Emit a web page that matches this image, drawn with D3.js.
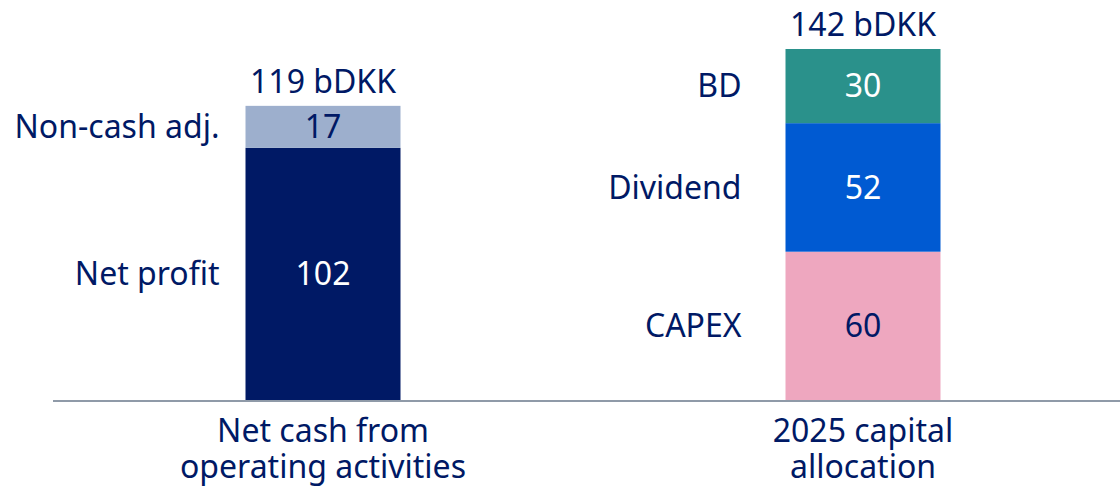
<!DOCTYPE html>
<html>
<head>
<meta charset="utf-8">
<script src="https://cdn.jsdelivr.net/npm/d3@7"></script>
<style>
  html, body { margin: 0; padding: 0; background: #fff; }
  svg { display: block; font-family: "Noto Sans", sans-serif; }
</style>
</head>
<body>
<div id="chart"></div>
<script>
// categories (each label split into lines)
const categories = ['Net cash from operating activities', '2025 capital allocation'];
const categoryLines = [['Net cash from', 'operating activities'], ['2025 capital', 'allocation']];
const totals = ['119 bDKK', '142 bDKK'];

// segments per bar, bottom to top
const segmentNames = [['Net profit', 'Non-cash adj.'], ['CAPEX', 'Dividend', 'BD']];
const segmentValues = [[102, 17], [60, 52, 30]];
const segmentColors = [['#001965', '#9DAFCD'], ['#EEA7BF', '#005AD2', '#2A918B']];
const valueColors = [['#ffffff', '#001965'], ['#001965', '#ffffff', '#ffffff']];

const width = 1120;
const height = 487;
const navy = '#001965';
const fontSize = 32;

const svg = d3.select('#chart')
  .append('svg')
  .attr('width', width)
  .attr('height', height);

const x = d3.scaleBand()
  .domain(categories)
  .range([53, 1133]);

const barWidth = 155;

const y = d3.scaleLinear()
  .domain([0, 142])
  .range([400, 49]);

// build stacked rows
const rows = [];
categories.forEach((c, i) => {
  let base = 0;
  segmentValues[i].forEach((v, j) => {
    rows.push({ cat: c, i, j, y0: base, y1: base + v, v, name: segmentNames[i][j] });
    base += v;
  });
});

const barX = c => x(c) + x.bandwidth() / 2 - barWidth / 2;

svg.selectAll('rect.seg')
  .data(rows)
  .enter()
  .append('rect')
  .attr('class', 'seg')
  .attr('x', d => barX(d.cat))
  .attr('width', barWidth)
  .attr('y', d => y(d.y1))
  .attr('height', d => y(d.y0) - y(d.y1))
  .attr('fill', d => segmentColors[d.i][d.j]);

// values inside bars
svg.selectAll('text.val')
  .data(rows)
  .enter()
  .append('text')
  .attr('x', d => x(d.cat) + x.bandwidth() / 2)
  .attr('y', d => y((d.y0 + d.y1) / 2))
  .attr('dy', '0.35em')
  .attr('text-anchor', 'middle')
  .style('font-size', fontSize + 'px')
  .attr('fill', d => valueColors[d.i][d.j])
  .text(d => d.v);

// segment names to the left
const labelGap = [26, 44];
svg.selectAll('text.name')
  .data(rows)
  .enter()
  .append('text')
  .attr('x', d => barX(d.cat) - labelGap[d.i])
  .attr('y', d => y((d.y0 + d.y1) / 2))
  .attr('dy', '0.35em')
  .attr('text-anchor', 'end')
  .style('font-size', fontSize + 'px')
  .attr('fill', navy)
  .text(d => d.name);

// totals above bars
svg.selectAll('text.total')
  .data(categories)
  .enter()
  .append('text')
  .attr('x', c => x(c) + x.bandwidth() / 2)
  .attr('y', (c, i) => y(d3.sum(segmentValues[i])) - 13)
  .attr('text-anchor', 'middle')
  .style('font-size', fontSize + 'px')
  .attr('fill', navy)
  .text((c, i) => totals[i]);

// baseline
svg.append('line')
  .attr('x1', 53)
  .attr('x2', width)
  .attr('y1', y(0) + 1)
  .attr('y2', y(0) + 1)
  .attr('stroke', '#8F9AA8')
  .attr('stroke-width', 2);

// category labels
const catText = svg.selectAll('text.cat')
  .data(categories)
  .enter()
  .append('text')
  .attr('text-anchor', 'middle')
  .style('font-size', fontSize + 'px')
  .attr('fill', navy);

catText.each(function (c, i) {
  d3.select(this).selectAll('tspan')
    .data(categoryLines[i])
    .enter()
    .append('tspan')
    .attr('x', x(c) + x.bandwidth() / 2)
    .attr('y', (t, k) => 442 + k * 36)
    .text(t => t);
});
</script>
</body>
</html>
